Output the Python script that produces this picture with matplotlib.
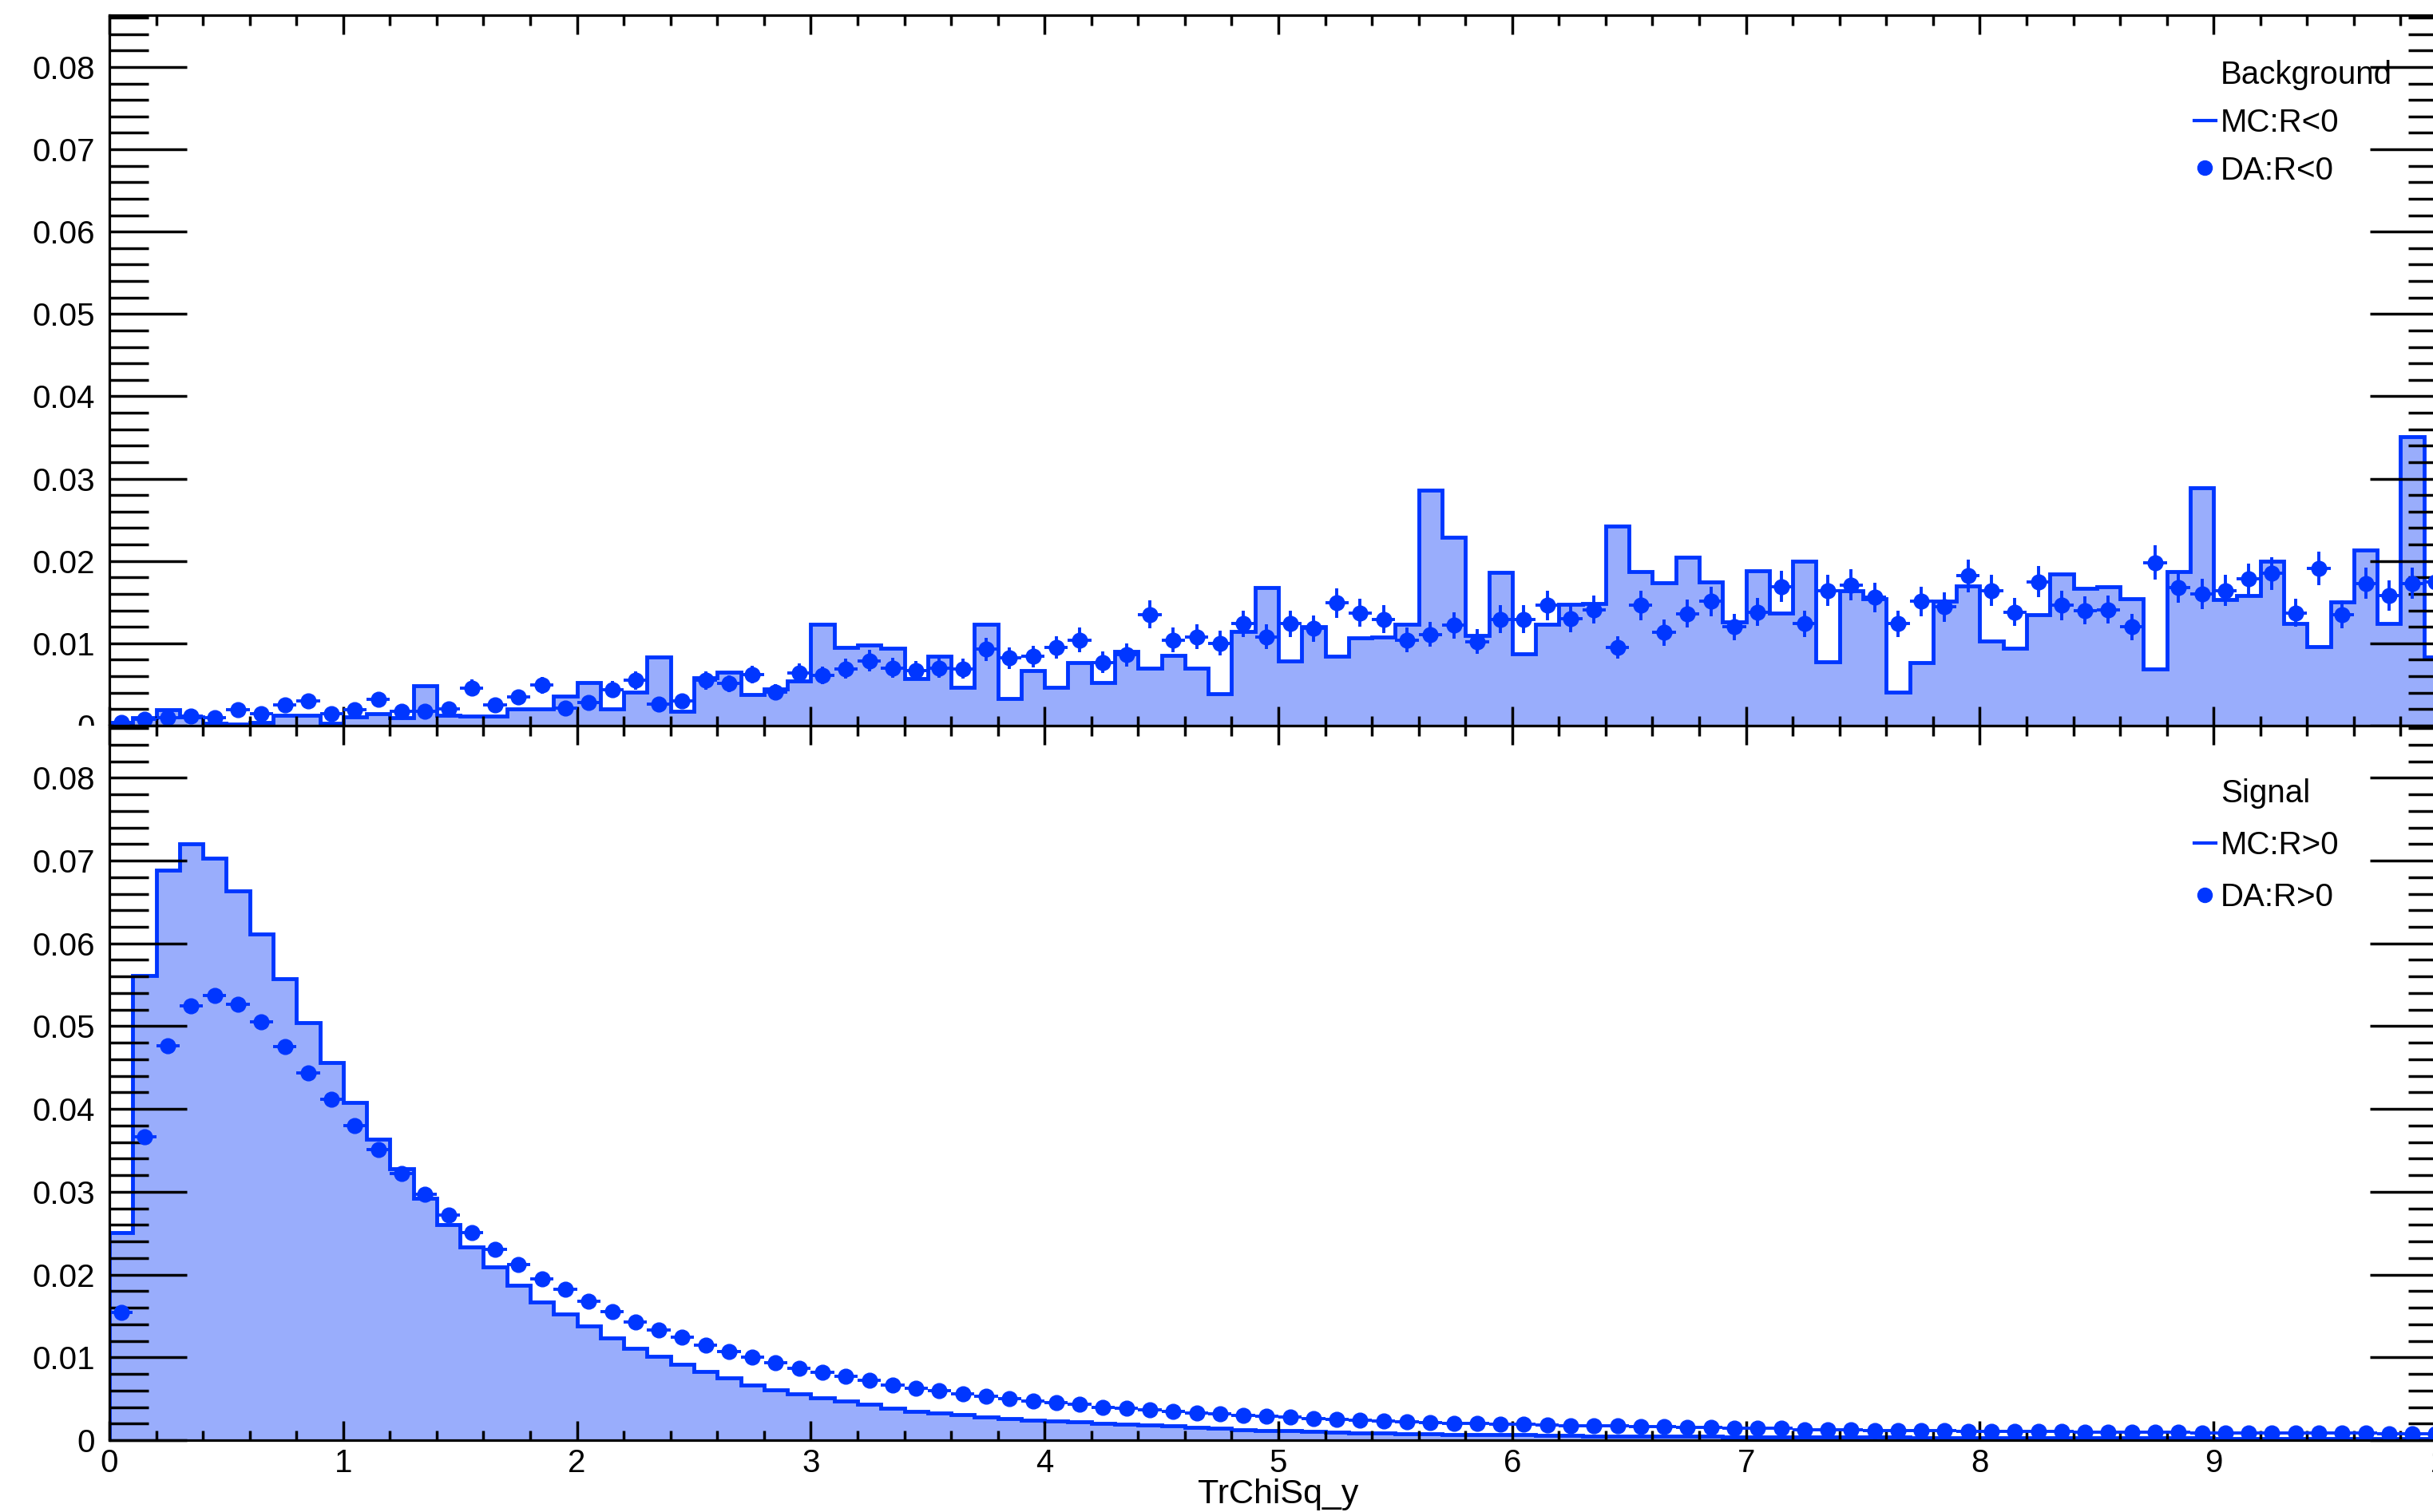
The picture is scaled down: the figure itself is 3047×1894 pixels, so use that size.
import numpy as np
import matplotlib
matplotlib.use("Agg")
import matplotlib.pyplot as plt
from matplotlib.lines import Line2D
from matplotlib.patches import Rectangle
from matplotlib.ticker import MultipleLocator, FuncFormatter

plt.rcParams['font.family'] = ['Liberation Sans', 'DejaVu Sans']

# TrChiSq_y, 100 bins from 0 to 10, normalised to unit area
bin_edges = np.linspace(0, 10, 101)

# background region (R<0)
mc_bkg = [0.0002, 0.0010, 0.0019, 0.0011, 0.0003, 0.0002, 0.0004, 0.0013, 0.0013, 0.0003,
          0.0011, 0.0015, 0.0010, 0.0048, 0.0013, 0.0012, 0.0012, 0.0020, 0.0020, 0.0036,
          0.0052, 0.0020, 0.0041, 0.0083, 0.0017, 0.0058, 0.0065, 0.0038, 0.0045, 0.0054,
          0.0123, 0.0095, 0.0098, 0.0094, 0.0057, 0.0084, 0.0047, 0.0123, 0.0033, 0.0067,
          0.0047, 0.0077, 0.0052, 0.0090, 0.0070, 0.0085, 0.0070, 0.0039, 0.0114, 0.0168,
          0.0079, 0.0120, 0.0084, 0.0107, 0.0108, 0.0123, 0.0286, 0.0229, 0.0110, 0.0186,
          0.0087, 0.0123, 0.0147, 0.0148, 0.0242, 0.0187, 0.0174, 0.0205, 0.0175, 0.0126,
          0.0188, 0.0137, 0.0200, 0.0078, 0.0164, 0.0154, 0.0041, 0.0077, 0.0151, 0.0170,
          0.0103, 0.0094, 0.0135, 0.0184, 0.0167, 0.0169, 0.0154, 0.0069, 0.0187, 0.0289,
          0.0153, 0.0158, 0.0200, 0.0124, 0.0096, 0.0150, 0.0213, 0.0124, 0.0351, 0.0083]

da_bkg = [0.0004, 0.0008, 0.0010, 0.0012, 0.0010, 0.0019, 0.0015, 0.0025, 0.0030, 0.0015,
          0.0019, 0.0032, 0.0017, 0.0017, 0.0020, 0.0046, 0.0025, 0.0035, 0.0049, 0.0021,
          0.0028, 0.0044, 0.0055, 0.0026, 0.0030, 0.0055, 0.0051, 0.0062, 0.0041, 0.0064,
          0.0061, 0.0069, 0.0079, 0.0070, 0.0067, 0.0070, 0.0069, 0.0093, 0.0082, 0.0084,
          0.0095, 0.0104, 0.0077, 0.0086, 0.0135, 0.0104, 0.0108, 0.0100, 0.0124, 0.0108,
          0.0124, 0.0118, 0.0149, 0.0137, 0.0129, 0.0104, 0.0111, 0.0122, 0.0102, 0.0129,
          0.0129, 0.0146, 0.0130, 0.0141, 0.0095, 0.0146, 0.0113, 0.0136, 0.0151, 0.0120,
          0.0138, 0.0169, 0.0124, 0.0164, 0.0171, 0.0156, 0.0124, 0.0151, 0.0144, 0.0182,
          0.0164, 0.0138, 0.0175, 0.0146, 0.0140, 0.0141, 0.0120, 0.0198, 0.0168, 0.0160,
          0.0164, 0.0178, 0.0185, 0.0137, 0.0191, 0.0135, 0.0173, 0.0158, 0.0173, 0.0175]

da_bkg_err = [0.0003, 0.0004, 0.0005, 0.0005, 0.0005, 0.0006, 0.0006, 0.0007, 0.0008, 0.0006,
              0.0006, 0.0008, 0.0006, 0.0006, 0.0007, 0.0010, 0.0007, 0.0009, 0.0010, 0.0007,
              0.0008, 0.0010, 0.0011, 0.0007, 0.0008, 0.0011, 0.0010, 0.0011, 0.0009, 0.0012,
              0.0011, 0.0012, 0.0013, 0.0012, 0.0012, 0.0012, 0.0012, 0.0014, 0.0013, 0.0013,
              0.0014, 0.0015, 0.0013, 0.0014, 0.0017, 0.0015, 0.0015, 0.0015, 0.0016, 0.0015,
              0.0016, 0.0016, 0.0018, 0.0017, 0.0017, 0.0015, 0.0015, 0.0016, 0.0015, 0.0017,
              0.0017, 0.0018, 0.0017, 0.0017, 0.0014, 0.0018, 0.0016, 0.0017, 0.0018, 0.0016,
              0.0017, 0.0019, 0.0016, 0.0019, 0.0019, 0.0018, 0.0016, 0.0018, 0.0018, 0.0020,
              0.0019, 0.0017, 0.0019, 0.0018, 0.0017, 0.0017, 0.0016, 0.0021, 0.0019, 0.0018,
              0.0019, 0.0019, 0.0020, 0.0017, 0.0020, 0.0017, 0.0019, 0.0018, 0.0019, 0.0019]

# signal region (R>0)
mc_sig = [0.0251, 0.0561, 0.0688, 0.0720, 0.0703, 0.0663, 0.0611, 0.0557, 0.0504, 0.0456,
          0.0408, 0.0364, 0.0328, 0.0292, 0.0260, 0.0233, 0.0209, 0.0187, 0.0167, 0.0152,
          0.0138, 0.0123, 0.0111, 0.0101, 0.0092, 0.0083, 0.0075, 0.0067, 0.0061, 0.0056,
          0.0051, 0.0047, 0.0043, 0.0039, 0.0035, 0.0033, 0.0031, 0.0028, 0.0026, 0.0024,
          0.0023, 0.0022, 0.0020, 0.0019, 0.0018, 0.0017, 0.0015, 0.0014, 0.0013, 0.0012,
          0.0012, 0.0011, 0.0010, 0.0009, 0.0009, 0.0008, 0.0008, 0.0007, 0.0007, 0.00066,
          0.00063, 0.0006, 0.00056, 0.00053, 0.0005, 0.0005, 0.00048, 0.00046, 0.00044, 0.00042,
          0.0004, 0.00039, 0.00038, 0.00037, 0.00036, 0.00035, 0.00034, 0.00033, 0.00032, 0.00031,
          0.0003, 0.0003, 0.00029, 0.00028, 0.00028, 0.00027, 0.00026, 0.00026, 0.00025, 0.00025,
          0.00024, 0.00024, 0.00023, 0.00023, 0.00022, 0.00022, 0.00021, 0.00021, 0.0002, 0.0002]

da_sig = [0.0154, 0.0366, 0.0476, 0.0525, 0.0537, 0.0526, 0.0505, 0.0475, 0.0444, 0.0412,
          0.0380, 0.0351, 0.0322, 0.0297, 0.0272, 0.0251, 0.0230, 0.0212, 0.0195, 0.0182,
          0.0168, 0.0155, 0.0143, 0.0133, 0.0124, 0.0115, 0.0107, 0.0100, 0.0094, 0.0087,
          0.0082, 0.0077, 0.0072, 0.0067, 0.0063, 0.0060, 0.0056, 0.0053, 0.0050, 0.0047,
          0.0045, 0.0043, 0.0040, 0.0039, 0.0037, 0.0035, 0.0033, 0.0032, 0.0030, 0.0029,
          0.0028, 0.0026, 0.0025, 0.0024, 0.0023, 0.0022, 0.0021, 0.0020, 0.0020, 0.0019,
          0.0019, 0.0018, 0.0017, 0.0017, 0.0017, 0.0016, 0.0016, 0.0015, 0.0015, 0.0014,
          0.0014, 0.0014, 0.0013, 0.0013, 0.0013, 0.0012, 0.0012, 0.0012, 0.0012, 0.0011,
          0.0011, 0.0011, 0.00105, 0.00103, 0.0010, 0.0010, 0.00097, 0.00095, 0.00093, 0.00091,
          0.0009, 0.00088, 0.00087, 0.00086, 0.00084, 0.00083, 0.00082, 0.0008, 0.00079, 0.00078]

x_ticks = [0, 1, 2, 3, 4, 5, 6, 7, 8, 9, 10]
y_ticks = [0, 0.01, 0.02, 0.03, 0.04, 0.05, 0.06, 0.07, 0.08]

line_col = '#0036ff'
fill_col = '#99adfc'

centers = 0.5 * (bin_edges[1:] + bin_edges[:-1])
half_w = 0.5 * np.diff(bin_edges)

W, H = 3047, 1894
fig = plt.figure(figsize=(W / 100, H / 100), dpi=100)
left = 137 / W
width = (3065 - 137) / W
ax_top = fig.add_axes([left, 1 - 909 / H, width, (909 - 19) / H])
ax_bot = fig.add_axes([left, 1 - 1804 / H, width, (1804 - 909) / H])
ax_top.set_zorder(0)
ax_bot.set_zorder(2)

# lower pad covers the part of the upper pad's labels that hang over it
fig.patches.append(Rectangle((0, 1 - 1804 / H), left, (1804 - 909) / H,
                             transform=fig.transFigure, facecolor='white',
                             edgecolor='none', zorder=1))


def draw_panel(ax, mc, da, err, title, mc_lab, da_lab, leg_y, spacing):
    ax.stairs(mc, bin_edges, fill=True, color=fill_col, lw=0)
    ax.stairs(mc, bin_edges, baseline=0, color=line_col, lw=3.5)
    ax.errorbar(centers, da, xerr=half_w, yerr=err, fmt='o', ms=13.5,
                color=line_col, ecolor=line_col, elinewidth=2.8, capsize=0)
    ax.set_xlim(0, 10)
    ax.set_ylim(0, 0.0863)
    ax.set_xticks(x_ticks)
    ax.set_yticks(y_ticks)
    ax.xaxis.set_minor_locator(MultipleLocator(0.2))
    ax.yaxis.set_minor_locator(MultipleLocator(0.002))
    ax.yaxis.set_major_formatter(FuncFormatter(lambda v, p: '0' if v == 0 else '%.2f' % v))
    ax.tick_params(which='both', direction='in', top=True, right=True,
                   width=2.5, labelsize=29, color='black')
    ax.tick_params(axis='x', which='major', length=17, pad=7)
    ax.tick_params(axis='x', which='minor', length=9)
    ax.tick_params(axis='y', which='major', length=70, pad=13)
    ax.tick_params(axis='y', which='minor', length=35)
    for s in ax.spines.values():
        s.set_linewidth(2.3)

    handles = [Line2D([], [], linestyle='none'),
               Line2D([], [], color=line_col, lw=3),
               Line2D([], [], color=line_col, marker='o', ms=13, linestyle='none')]
    ax.legend(handles, [title, mc_lab, da_lab], loc='upper left',
              bbox_to_anchor=(0.8917, leg_y), frameon=False, fontsize=29,
              handlelength=0.67, handletextpad=0.15, labelspacing=spacing,
              borderpad=0, borderaxespad=0)


draw_panel(ax_top, mc_bkg, da_bkg, da_bkg_err, 'Background', 'MC:R<0', 'DA:R<0', 0.937, 0.54)
draw_panel(ax_bot, mc_sig, da_sig, None, 'Signal', 'MC:R>0', 'DA:R>0', 0.926, 0.67)

ax_top.tick_params(axis='x', labelbottom=False)
ax_bot.set_xlabel('TrChiSq_y', fontsize=31, labelpad=0)

fig.savefig('out.png', dpi=100)
